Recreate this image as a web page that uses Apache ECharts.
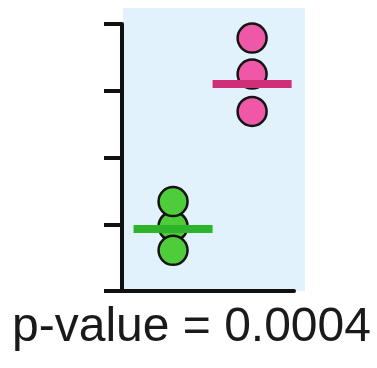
<!DOCTYPE html>
<html>
<head>
<meta charset="utf-8">
<script src="https://cdn.jsdelivr.net/npm/echarts@6/dist/echarts.min.js"></script>
<style>
  html, body { margin: 0; padding: 0; background: #ffffff; }
  #chart { width: 377px; height: 368px; }
</style>
</head>
<body>
<div id="chart"></div>
<script>
// Two groups of three replicates each, plus the group mean bars
const groupNames = ['control', 'treated'];
const groupX = [1, 2];
const controlValues = [0.97, 1.34, 0.61];
const treatedValues = [3.25, 3.79, 2.69];
const groupMeans = [0.93, 3.10];
const yTicks = [0, 1, 2, 3, 4];
const pText = 'p-value = 0.0004';

const chart = echarts.init(document.getElementById('chart'));

function dots(x, values) {
  return values.map(v => [x, v]);
}
function meanBar(x, m) {
  return [[x - 0.5, m], [x + 0.5, m]];
}

const dotStyle = (fill) => ({
  color: fill,
  borderColor: '#141414',
  borderWidth: 2.5,
  opacity: 1
});

chart.setOption({
  animation: false,
  backgroundColor: '#ffffff',
  graphic: [{
    type: 'rect',
    z: -10,
    silent: true,
    shape: { x: 123, y: 8, width: 182, height: 283 },
    style: { fill: '#e2f2fc' }
  }, {
    type: 'text',
    left: 12,
    top: 304,
    style: {
      text: pText,
      font: '48px "Liberation Sans", Arial, sans-serif',
      fill: '#1a1a1a'
    }
  }],
  grid: { left: 122, right: 83, top: 24, bottom: 77 },
  xAxis: {
    type: 'value',
    min: 0.354,
    max: 2.53,
    axisLine: { show: true, onZero: false, lineStyle: { color: '#111', width: 4 } },
    axisTick: { show: false },
    axisLabel: { show: false },
    splitLine: { show: false }
  },
  yAxis: {
    type: 'value',
    min: yTicks[0],
    max: yTicks[yTicks.length - 1],
    interval: 1,
    axisLine: { show: true, lineStyle: { color: '#111', width: 4 } },
    axisTick: { show: true, length: 18, lineStyle: { color: '#111', width: 4 } },
    axisLabel: { show: false },
    splitLine: { show: false }
  },
  series: [
    {
      name: groupNames[0],
      type: 'scatter',
      symbolSize: 29,
      itemStyle: dotStyle('#4fcc3a'),
      data: dots(groupX[0], controlValues),
      z: 2
    },
    {
      name: groupNames[1],
      type: 'scatter',
      symbolSize: 29,
      itemStyle: dotStyle('#ee58a6'),
      data: dots(groupX[1], treatedValues),
      z: 2
    },
    {
      name: groupNames[0] + ' mean',
      type: 'line',
      showSymbol: false,
      symbol: 'none',
      lineStyle: { color: '#2eb42a', width: 8, cap: 'butt' },
      data: meanBar(groupX[0], groupMeans[0]),
      z: 5
    },
    {
      name: groupNames[1] + ' mean',
      type: 'line',
      showSymbol: false,
      symbol: 'none',
      lineStyle: { color: '#cf2f78', width: 8, cap: 'butt' },
      data: meanBar(groupX[1], groupMeans[1]),
      z: 5
    }
  ]
});
</script>
</body>
</html>
